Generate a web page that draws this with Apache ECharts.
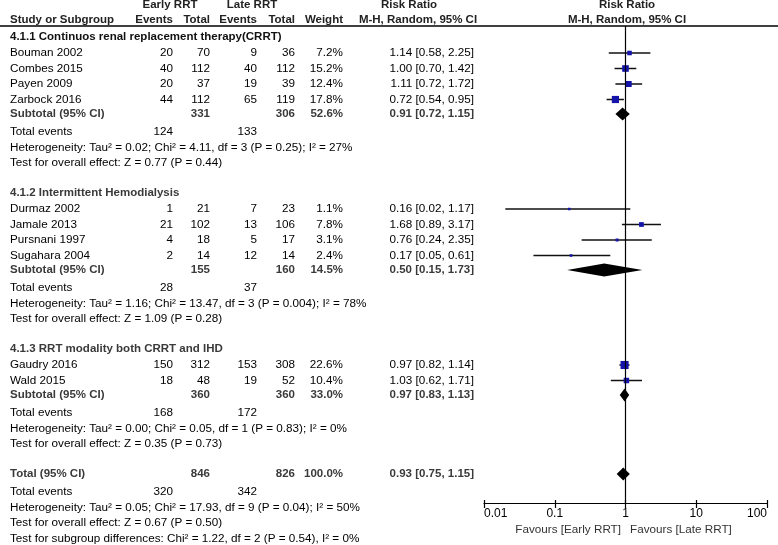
<!DOCTYPE html>
<html><head><meta charset="utf-8">
<script src="https://cdn.jsdelivr.net/npm/echarts@6/dist/echarts.min.js"></script>
<style>html,body{margin:0;padding:0;background:#fff}#c{width:778px;height:545px}</style>
</head><body><div id="c"></div>
<script>
// ---- data ----
const studies = ['Bouman 2002','Combes 2015','Payen 2009','Zarbock 2016','Durmaz 2002','Jamale 2013','Pursnani 1997','Sugahara 2004','Gaudry 2016','Wald 2015'];
const studyGroup = [0,0,0,0,1,1,1,1,2,2];
const earlyEvents = [20,40,20,44,1,21,4,2,150,18];
const earlyTotal = [70,112,37,112,21,102,18,14,312,48];
const lateEvents = [9,40,19,65,7,13,5,12,153,19];
const lateTotal = [36,112,39,119,23,106,17,14,308,52];
const weights = [7.2,15.2,12.4,17.8,1.1,7.8,3.1,2.4,22.6,10.4];
const riskRatio = [1.14,1.00,1.11,0.72,0.16,1.68,0.76,0.17,0.97,1.03];
const ciLow = [0.58,0.70,0.72,0.54,0.02,0.89,0.24,0.05,0.82,0.62];
const ciHigh = [2.25,1.42,1.72,0.95,1.17,3.17,2.35,0.61,1.14,1.71];

const groupNames = ['4.1.1 Continuos renal replacement therapy(CRRT)','4.1.2 Intermittent Hemodialysis','4.1.3 RRT modality both CRRT and IHD'];
const subEarlyTotal = [331,155,360];
const subLateTotal = [306,160,360];
const subEarlyEvents = [124,28,168];
const subLateEvents = [133,37,172];
const subWeight = [52.6,14.5,33.0];
const subRR = [0.91,0.50,0.97];
const subLow = [0.72,0.15,0.83];
const subHigh = [1.15,1.73,1.13];
const subHet = ['Heterogeneity: Tau\u00b2 = 0.02; Chi\u00b2 = 4.11, df = 3 (P = 0.25); I\u00b2 = 27%',
                'Heterogeneity: Tau\u00b2 = 1.16; Chi\u00b2 = 13.47, df = 3 (P = 0.004); I\u00b2 = 78%',
                'Heterogeneity: Tau\u00b2 = 0.00; Chi\u00b2 = 0.05, df = 1 (P = 0.83); I\u00b2 = 0%'];
const subTest = ['Test for overall effect: Z = 0.77 (P = 0.44)','Test for overall effect: Z = 1.09 (P = 0.28)','Test for overall effect: Z = 0.35 (P = 0.73)'];

const totEarlyTotal = 846, totLateTotal = 826, totWeight = 100.0;
const totEarlyEvents = 320, totLateEvents = 342;
const totRR = 0.93, totLow = 0.75, totHigh = 1.15;
const totHet = 'Heterogeneity: Tau\u00b2 = 0.05; Chi\u00b2 = 17.93, df = 9 (P = 0.04); I\u00b2 = 50%';
const totTest = 'Test for overall effect: Z = 0.67 (P = 0.50)';
const subgroupTest = 'Test for subgroup differences: Chi\u00b2 = 1.22, df = 2 (P = 0.54), I\u00b2 = 0%';

const axisTicks = [0.01, 0.1, 1, 10, 100];
const favoursLeft = 'Favours [Early RRT]';
const favoursRight = 'Favours [Late RRT]';

// ---- layout ----
const FONT = 'Liberation Sans, Arial, sans-serif';
const FS = 11.7, FSB = 11.5;
const col = {name:10, ee:173, et:210, le:257, lt:295, w:343, ci:474};
const graphics = [];
function txt(s, x, y, align, bold, color){
  graphics.push({type:'text', silent:true, style:{text:String(s), x:x, y:y,
    font:(bold?'bold '+FSB:FS)+'px '+FONT, fill:color||'#000',
    align:align||'left', textAlign:align||'left', verticalAlign:'middle', textVerticalAlign:'middle'}});
}
const fmtCI = (r,l,h)=> r.toFixed(2)+' ['+l.toFixed(2)+', '+h.toFixed(2)+']';

const studyPts = [];
const diamondPts = [];
let y = 37;
groupNames.forEach((g, gi) => {
  txt(g, col.name, y, 'left', true, gi===0?'#111':'#3a3a3a'); y += 16;
  const idx = studies.map((s,i)=>i).filter(i=>studyGroup[i]===gi);
  idx.forEach((si,k)=>{
    txt(studies[si], col.name, y, 'left');
    txt(earlyEvents[si], col.ee, y, 'right');
    txt(earlyTotal[si], col.et, y, 'right');
    txt(lateEvents[si], col.le, y, 'right');
    txt(lateTotal[si], col.lt, y, 'right');
    txt(weights[si].toFixed(1)+'%', col.w, y, 'right');
    txt(fmtCI(riskRatio[si],ciLow[si],ciHigh[si]), col.ci, y, 'right');
    studyPts.push([riskRatio[si], ciLow[si], ciHigh[si], y, weights[si]]);
    y += (k < idx.length-1) ? 15.5 : 14.5;
  });
  txt('Subtotal (95% CI)', col.name, y, 'left', true, '#3a3a3a');
  txt(subEarlyTotal[gi], col.et, y, 'right', true, '#3a3a3a');
  txt(subLateTotal[gi], col.lt, y, 'right', true, '#3a3a3a');
  txt(subWeight[gi].toFixed(1)+'%', col.w, y, 'right', true, '#3a3a3a');
  txt(fmtCI(subRR[gi],subLow[gi],subHigh[gi]), col.ci, y, 'right', true, '#3a3a3a');
  diamondPts.push([subRR[gi], subLow[gi], subHigh[gi], y]);
  y += 18;
  txt('Total events', col.name, y, 'left');
  txt(subEarlyEvents[gi], col.ee, y, 'right');
  txt(subLateEvents[gi], col.le, y, 'right');
  y += 15.5;
  txt(subHet[gi], col.name, y, 'left'); y += 15.5;
  txt(subTest[gi], col.name, y, 'left'); y += 30;
});
txt('Total (95% CI)', col.name, y, 'left', true, '#3a3a3a');
txt(totEarlyTotal, col.et, y, 'right', true, '#3a3a3a');
txt(totLateTotal, col.lt, y, 'right', true, '#3a3a3a');
txt(totWeight.toFixed(1)+'%', col.w, y, 'right', true, '#3a3a3a');
txt(fmtCI(totRR,totLow,totHigh), col.ci, y, 'right', true, '#3a3a3a');
diamondPts.push([totRR, totLow, totHigh, y]);
y += 18;
txt('Total events', col.name, y, 'left');
txt(totEarlyEvents, col.ee, y, 'right');
txt(totLateEvents, col.le, y, 'right');
y += 15.5;
txt(totHet, col.name, y, 'left'); y += 15.5;
txt(totTest, col.name, y, 'left'); y += 15.5;
txt(subgroupTest, col.name, y, 'left');

// headers
txt('Early RRT', 170, 5, 'center', true, '#222');
txt('Late RRT', 252, 5, 'center', true, '#222');
txt('Risk Ratio', 409, 5, 'center', true, '#222');
txt('Risk Ratio', 627, 5, 'center', true, '#222');
txt('Study or Subgroup', col.name, 20, 'left', true, '#222');
txt('Events', col.ee, 20, 'right', true, '#222');
txt('Total', col.et, 20, 'right', true, '#222');
txt('Events', col.le, 20, 'right', true, '#222');
txt('Total', col.lt, 20, 'right', true, '#222');
txt('Weight', col.w, 20, 'right', true, '#222');
txt('M-H, Random, 95% CI', 418, 20, 'center', true, '#222');
txt('M-H, Random, 95% CI', 627, 20, 'center', true, '#222');
graphics.push({type:'line', silent:true, shape:{x1:0,y1:26,x2:778,y2:26}, style:{stroke:'#000', lineWidth:1.3}});
// favours
graphics.push({type:'text', silent:true, style:{text:favoursLeft, x:621, y:530, font:FS+'px '+FONT, fill:'#333', align:'right', textAlign:'right', verticalAlign:'middle', textVerticalAlign:'middle'}});
graphics.push({type:'text', silent:true, style:{text:favoursRight, x:630, y:530, font:FS+'px '+FONT, fill:'#333', align:'left', textAlign:'left', verticalAlign:'middle', textVerticalAlign:'middle'}});

const logAxisBase = {type:'log', logBase:10, min:axisTicks[0], max:axisTicks[axisTicks.length-1], position:'bottom', offset:0,
  splitLine:{show:false}, minorTick:{show:false}};
const chart = echarts.init(document.getElementById('c'), null, {renderer:'canvas'});
chart.setOption({
  animation:false,
  backgroundColor:'#fff',
  grid:{left:484, right:11, top:26, bottom:42, containLabel:false},
  xAxis:[
    Object.assign({}, logAxisBase, {
      axisLine:{show:true, lineStyle:{color:'#000', width:1.2}},
      axisTick:{show:true, length:5, lineStyle:{color:'#000', width:1.2}},
      axisLabel:{color:'#000', fontSize:12, fontFamily:FONT, margin:5, alignMinLabel:'left', alignMaxLabel:'right',
        formatter:v=>String(+(+v).toPrecision(6))}}),
    Object.assign({}, logAxisBase, {
      axisLine:{show:false},
      axisTick:{show:true, inside:true, length:3, lineStyle:{color:'#000', width:1.2}},
      axisLabel:{show:false}})
  ],
  yAxis:{type:'value', min:26, max:503, inverse:true, show:false},
  series:[
    {type:'custom', xAxisIndex:0, data:studyPts, encode:{x:[0,1,2], y:3}, clip:false,
      renderItem:function(params, api){
        const yy = api.value(3);
        const a = api.coord([api.value(1), yy]);
        const b = api.coord([api.value(2), yy]);
        const m = api.coord([api.value(0), yy]);
        const s = Math.max(2.5, 1.7*Math.sqrt(api.value(4)));
        return {type:'group', children:[
          {type:'line', shape:{x1:a[0],y1:a[1],x2:b[0],y2:b[1]}, style:{stroke:'#111', lineWidth:1.5}},
          {type:'rect', shape:{x:m[0]-s/2, y:m[1]-s/2, width:s, height:s}, style:{fill:'#1414aa'}}
        ]};
      }},
    {type:'custom', xAxisIndex:0, data:diamondPts, encode:{x:[0,1,2], y:3}, clip:false,
      renderItem:function(params, api){
        const yy = api.value(3);
        const a = api.coord([api.value(1), yy]);
        const b = api.coord([api.value(2), yy]);
        const m = api.coord([api.value(0), yy]);
        const h = 6.5;
        return {type:'polygon', shape:{points:[[a[0],a[1]],[m[0],m[1]-h],[b[0],b[1]],[m[0],m[1]+h]]}, style:{fill:'#000'}};
      },
      markLine:{silent:true, symbol:'none', label:{show:false}, data:[{xAxis:1}], lineStyle:{color:'#000', width:1.2, type:'solid'}}}
  ],
  graphic:graphics
});
</script></body></html>
